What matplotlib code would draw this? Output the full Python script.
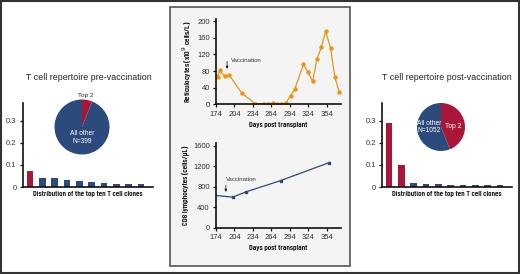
import matplotlib
matplotlib.use("Agg")
import matplotlib.pyplot as plt
from matplotlib.patches import Rectangle
from matplotlib import font_manager

# ---------------- data ----------------
retic_days = [174, 177, 180, 188, 195, 216, 238, 252, 259, 266, 273, 280, 288,
              295, 302, 316, 323, 331, 338, 345, 352, 360, 367, 374]
retic_vals = [68, 66, 82, 67, 71, 27, 1, 1, 1, 2, 1, 1, 4,
              21, 37, 96, 78, 55, 109, 137, 175, 136, 65, 30]

cd8_days = [174, 201, 222, 279, 358]
cd8_vals = [632, 600, 700, 922, 1272]

vacc_day_top = 192
vacc_day_bot = 190

day_ticks = [174, 204, 234, 264, 294, 324, 354]
retic_ticks = [0, 40, 80, 120, 160, 200]
cd8_ticks = [0, 400, 800, 1200, 1600]

pre_clones = [0.072, 0.039, 0.039, 0.030, 0.026, 0.024, 0.018, 0.015, 0.012, 0.012]
post_clones = [0.290, 0.101, 0.018, 0.014, 0.014, 0.011, 0.011, 0.011, 0.010, 0.010]
clone_ticks = [0, 0.1, 0.2, 0.3]
clone_ticklabels = ["0", "0.1", "0.2", "0.3"]

pre_pie = [0.06, 0.94]
post_pie = [0.44, 0.56]
pre_n = "All other\nN=399"
post_n = "All other\nN=1052"

RED = "#A8173A"
BLUE = "#2D4A7C"
ORANGE = "#E8961E"
BOXFILL = "#F4F4F4"

W, H = 520, 274
fig = plt.figure(figsize=(W / 100, H / 100), dpi=100)
plt.rcParams['font.family'] = ['Liberation Sans', 'DejaVu Sans']

available = {f.name for f in font_manager.fontManager.ttflist}
narrow_pref = [n for n in ['Barlow Condensed', 'Archivo Narrow', 'Asap Condensed',
                           'Liberation Sans Narrow'] if n in available]
NARROW = narrow_pref[:1] + ['Liberation Sans', 'DejaVu Sans']
LBL = dict(family=NARROW, fontweight="semibold", color="#111111")


def fx(px):
    return px / W


def fy(py):
    return 1 - py / H


# outer border
fig.patches.append(Rectangle((0.002, 0.004), 0.996, 0.992, transform=fig.transFigure,
                             fill=False, edgecolor="#333333", linewidth=1.5, zorder=-2))
# center box
fig.patches.append(Rectangle((fx(170), fy(266)), fx(180), 259 / H, transform=fig.transFigure,
                             facecolor=BOXFILL, edgecolor="#555555", linewidth=1.2, zorder=-2))


def style_axes(ax):
    for s in ["top", "right"]:
        ax.spines[s].set_visible(False)
    for s in ["left", "bottom"]:
        ax.spines[s].set_linewidth(1.2)
        ax.spines[s].set_color("#111111")
    ax.tick_params(axis="both", direction="out", length=2.5, width=0.9, labelsize=5.5,
                   pad=2, colors="#111111", labelcolor="#333333")
    ax.patch.set_visible(False)


ARROW = dict(arrowstyle="-|>", color="#222222", lw=0.6, mutation_scale=3.5,
             shrinkA=0, shrinkB=0)

# ---------- top line chart ----------
ax1 = fig.add_axes([fx(216), fy(104.3), fx(341) - fx(216), (104.3 - 19) / H])
style_axes(ax1)
ax1.plot(retic_days, retic_vals, color=ORANGE, linewidth=0.9, marker="o", markersize=2.2)
ax1.set_xlim(174, 377)
ax1.set_ylim(0, 205)
ax1.set_xticks(day_ticks)
ax1.set_yticks(retic_ticks)
ax1.set_xlabel("Days post transplant", fontsize=5.8, labelpad=3, **LBL)
ax1.set_ylabel("Reticulocytes (x10$^9$ cells/L)", fontsize=5.9, labelpad=2, **LBL)
ax1.annotate("", xy=(vacc_day_top, 85), xytext=(vacc_day_top, 103), arrowprops=ARROW)
ax1.text(vacc_day_top + 6, 106, "Vaccination", fontsize=4.3, color="#333333", va="center")

# ---------- bottom line chart ----------
ax2 = fig.add_axes([fx(216), fy(228), fx(341) - fx(216), (228 - 143.3) / H])
style_axes(ax2)
ax2.plot(cd8_days, cd8_vals, color=BLUE, linewidth=0.9, marker="s", markersize=2.0,
         markevery=[1, 2, 3, 4])
ax2.set_xlim(174, 377)
ax2.set_ylim(0, 1647)
ax2.set_xticks(day_ticks)
ax2.set_yticks(cd8_ticks)
ax2.set_xlabel("Days post transplant", fontsize=5.8, labelpad=3, **LBL)
ax2.set_ylabel("CD8 lymphocytes (cells/\u03bcL)", fontsize=5.9, labelpad=2, **LBL)
ax2.annotate("", xy=(vacc_day_bot, 700), xytext=(vacc_day_bot, 830), arrowprops=ARROW)
ax2.text(vacc_day_bot, 935, "Vaccination", fontsize=4.3, color="#333333", va="center")


# ---------- bar charts ----------
def bar_panel(left_px, y0_px, ytop_px, vals, title, title_x):
    ax = fig.add_axes([fx(left_px), fy(y0_px), 130 / W, (y0_px - ytop_px) / H])
    style_axes(ax)
    colors = [RED if i < 2 and v > 0.05 else BLUE for i, v in enumerate(vals)]
    ax.bar(range(len(vals)), vals, width=0.55, color=colors)
    ax.set_xlim(-0.56, 9.98)
    ax.set_ylim(0, 0.38)
    ax.set_yticks(clone_ticks)
    ax.set_yticklabels(clone_ticklabels)
    ax.set_xticks([])
    ax.set_xlabel("Distribution of the top ten T cell clones", fontsize=5.8,
                  labelpad=3, **LBL)
    fig.text(fx(title_x), fy(77), title, fontsize=6.4, ha="center", va="center", color="#222222")
    return ax


bar_panel(23, 187, 103, pre_clones, "T cell repertoire pre-vaccination", 89)
bar_panel(382, 187, 103, post_clones, "T cell repertoire post-vaccination", 447)


def pie_panel(cx, cy, r, fracs):
    ax = fig.add_axes([fx(cx - r), fy(cy + r), 2 * r / W, 2 * r / H])
    ax.pie(fracs, colors=[RED, BLUE], startangle=90, counterclock=False,
           wedgeprops=dict(linewidth=0))
    ax.set_xlim(-1, 1)
    ax.set_ylim(-1, 1)
    ax.set_aspect("auto")
    ax.axis("off")
    return ax


pax1 = pie_panel(82, 127, 27.5, pre_pie)
pax1.text(0.12, 1.14, "Top 2", fontsize=4.5, ha="center", va="center", color="#222222")
pax1.text(0, -0.38, pre_n, fontsize=4.8, ha="center", va="center", color="white",
          linespacing=1.1)

pax2 = pie_panel(441, 127, 24, post_pie)
pax2.text(0.5, 0.0, "Top 2", fontsize=4.8, ha="center", va="center", color="white")
pax2.text(-0.5, 0.0, post_n, fontsize=4.8, ha="center", va="center", color="white",
          linespacing=1.1)

fig.savefig("out.png", dpi=100)
